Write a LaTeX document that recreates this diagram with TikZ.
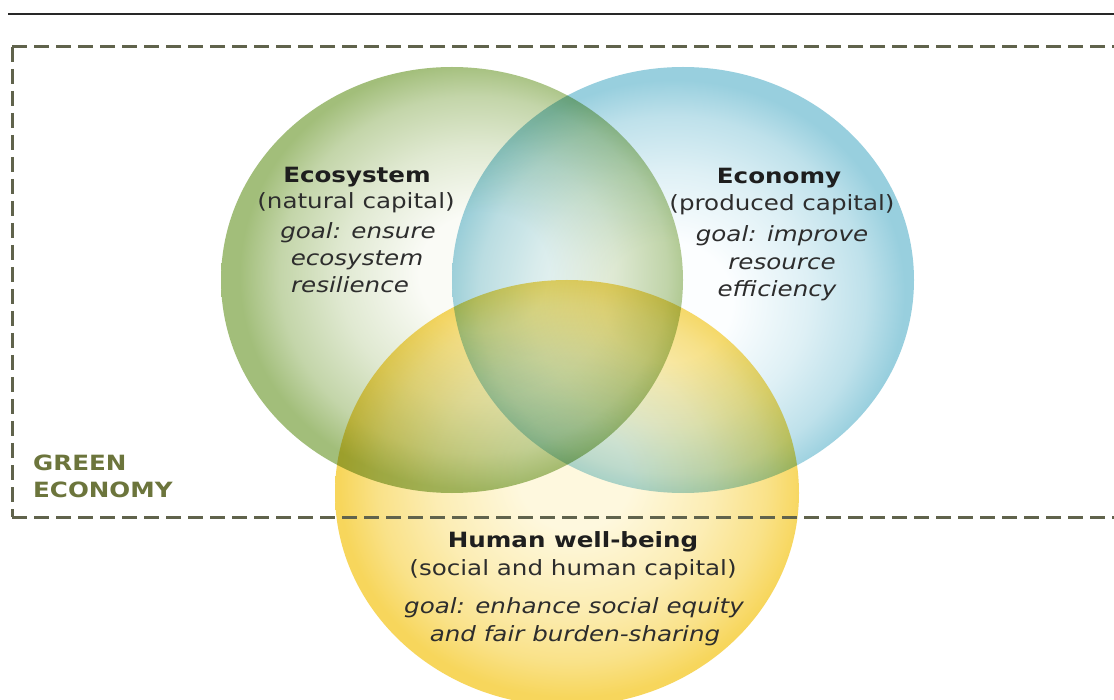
\documentclass[tikz,border=0pt]{standalone}
\usepackage{fontspec}
\setmainfont{DejaVu Sans}[FakeStretch=1.17]
\definecolor{gE}{RGB}{162,190,122}
\definecolor{gC}{RGB}{250,251,246}
\colorlet{gM}{gE!30!gC}
\colorlet{gN}{gE!62!gC}
\definecolor{bE}{RGB}{152,207,222}
\definecolor{bC}{RGB}{252,254,255}
\colorlet{bM}{bE!30!bC}
\colorlet{bN}{bE!62!bC}
\definecolor{yE}{RGB}{247,214,92}
\definecolor{yC}{RGB}{254,248,222}
\colorlet{yM}{yE!33!yC}
\colorlet{yN}{yE!66!yC}
\definecolor{frameC}{RGB}{96,99,76}
\definecolor{geC}{RGB}{108,117,60}
\definecolor{txt}{RGB}{30,30,30}
\definecolor{txtb}{RGB}{45,45,45}
\pgfdeclareradialshading{greenball}{\pgfpoint{4bp}{1bp}}{color(0bp)=(gC); color(7bp)=(gC); color(15bp)=(gM); color(21bp)=(gN); color(25bp)=(gE); color(50bp)=(gE)}
\pgfdeclareradialshading{blueball}{\pgfpoint{-2bp}{-3bp}}{color(0bp)=(bC); color(7bp)=(bC); color(15bp)=(bM); color(21bp)=(bN); color(25bp)=(bE); color(50bp)=(bE)}
\pgfdeclareradialshading{yellowball}{\pgfpoint{1bp}{2bp}}{color(0bp)=(yC); color(6bp)=(yC); color(15bp)=(yM); color(21bp)=(yN); color(25bp)=(yE); color(50bp)=(yE)}
\tikzset{
  ttl/.style={anchor=base, text=txt, font=\fontsize{21}{26}\selectfont\bfseries, inner sep=0pt},
  sub/.style={anchor=base, text=txtb, font=\fontsize{21}{26}\selectfont, inner sep=0pt},
  gl/.style={anchor=base, text=txtb, font=\fontsize{21}{26}\selectfont\itshape, inner sep=0pt},
  gelabel/.style={anchor=base west, text=geC, font=\fontsize{21}{26}\selectfont\bfseries, inner sep=0pt},
  gedash/.style={draw=frameC, line width=3pt, dash pattern=on 15pt off 7pt},
}
\begin{document}
\begin{tikzpicture}[x=1pt,y=-1pt]
\useasboundingbox (0,0) rectangle (1114,700);
\fill[white] (0,0) rectangle (1114,700);
% top rule
\draw[line width=2.4pt, draw={rgb,255:red,40;green,40;blue,40}] (8,14) -- (1114,14);
% circles
\shade[shading=greenball, blend mode=multiply] (452,280) ellipse [x radius=231, y radius=213];
\shade[shading=blueball, blend mode=multiply] (683,280) ellipse [x radius=231, y radius=213];
\shade[shading=yellowball, blend mode=multiply] (567,493) ellipse [x radius=232, y radius=213];
% green economy frame
\draw[gedash] (12,47) -- (1120,47);
\draw[gedash] (12,47) -- (12,517);
\draw[gedash] (12,517) -- (1120,517);
% labels
\node[gelabel] (ge1) at (33,470) {GREEN};
\node[gelabel] (ge2) at (33,497) {ECONOMY};
% ecosystem
\node[ttl] (eco1) at (357,183) {Ecosystem};
\node[sub] (eco2) at (356,209) {(natural capital)};
\node[gl] (eco3) at (358,239) {goal: ensure};
\node[gl] (eco4) at (357,266) {ecosystem};
\node[gl] (eco5) at (350,293) {resilience};
% economy
\node[ttl] (ecn1) at (779,184) {Economy};
\node[sub] (ecn2) at (782,211) {(produced capital)};
\node[gl] (ecn3) at (782,242) {goal: improve};
\node[gl] (ecn4) at (782,270) {resource};
\node[gl] (ecn5) at (777,297) {efficiency};
% human well-being
\node[ttl] (hw1) at (573,547) {Human well-being};
\node[sub] (hw2) at (573,575) {(social and human capital)};
\node[gl] (hw3) at (574,613) {goal: enhance social equity};
\node[gl] (hw4) at (575,641) {and fair burden-sharing};
\end{tikzpicture}
\end{document}
